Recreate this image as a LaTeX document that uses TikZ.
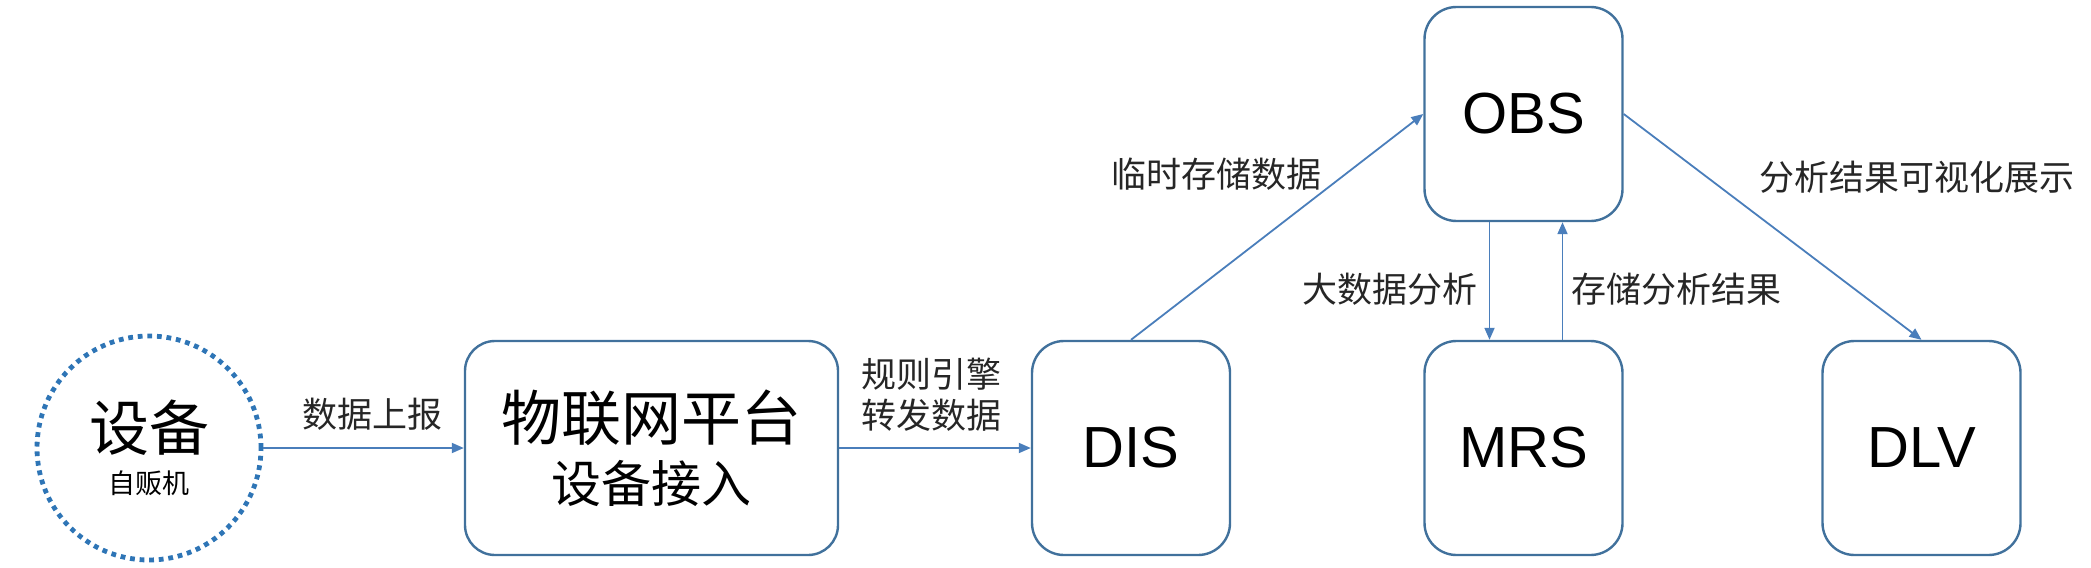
\documentclass[tikz,border=0pt]{standalone}
\usepackage{fontspec}
\setmainfont{Noto Sans CJK SC}
\newfontfamily\latinfont{Liberation Sans}
\usepackage{tikz}
\usetikzlibrary{arrows.meta}
\definecolor{boxblue}{HTML}{41719C}
\definecolor{arrowblue}{HTML}{4A7EBB}
\definecolor{dotblue}{HTML}{2E75B6}
\definecolor{labelgray}{HTML}{262626}

\begin{document}
\begin{tikzpicture}[x=0.5pt, y=-0.5pt,
		mybox/.style={draw=boxblue, line width=1.2pt, rounded corners=16pt, minimum width=99pt, minimum height=107pt, align=center, font=\latinfont\fontsize{29}{34}\selectfont},
		myarrow/.style={-{Triangle[length=6pt,width=5pt]}, draw=arrowblue, line width=0.9pt},
		mylabel/.style={text=labelgray, align=center, inner sep=0pt, font=\fontsize{17.5}{20.5}\selectfont}
	]
		\useasboundingbox (0,0) rectangle (2091,567);

		\node[circle, draw=dotblue, line width=2.4pt, dash pattern=on 2.4pt off 2.4pt, minimum size=112pt, inner sep=0pt, align=center, font=\fontsize{13.5}{21.3}\selectfont] (dev) at (149,448) {{\fontsize{30}{21.3}\selectfont 设备}\\自贩机};

		\node[mybox, minimum width=186.5pt, rounded corners=15pt, font=\fontsize{25}{31}\selectfont] (iot) at (651.5,448) {{\fontsize{30}{31}\selectfont 物联网平台}\\设备接入};
		\node[mybox] (dis) at (1131,448) {DIS};
		\node[mybox] (obs) at (1523.5,114) {OBS};
		\node[mybox] (mrs) at (1523.5,448) {MRS};
		\node[mybox] (dlv) at (1921.5,448) {DLV};

		\draw[myarrow] (dev) -- (iot);
		\draw[myarrow] (iot) -- (dis);
		\draw[myarrow] (dis.north) -- (obs.west);
		\draw[myarrow] ([xshift=-17pt]obs.south) -- ([xshift=-17pt]mrs.north);
		\draw[myarrow] ([xshift=19.5pt]mrs.north) -- ([xshift=19.5pt]obs.south);
		\draw[myarrow] (obs.east) -- (dlv.north);

		\node[mylabel] (lblreport) at (372,414) {数据上报};
		\node[mylabel] (lblrule) at (931,395) {规则引擎\\转发数据};
		\node[mylabel] (lbltemp) at (1216,174) {临时存储数据};
		\node[mylabel] (lblbig) at (1390,289) {大数据分析};
		\node[mylabel] (lblsave) at (1676,289) {存储分析结果};
		\node[mylabel] (lblshow) at (1917,177) {分析结果可视化展示};

	\end{tikzpicture}
\end{document}
